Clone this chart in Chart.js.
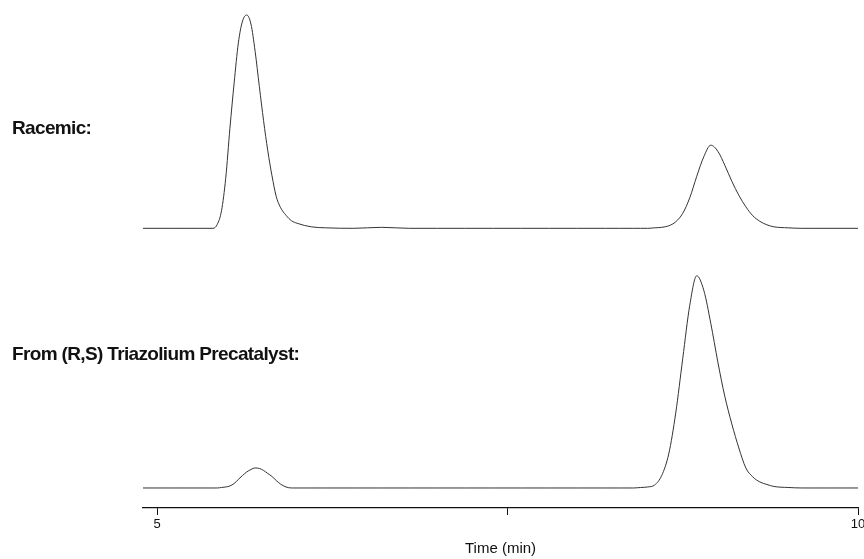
<!DOCTYPE html>
<html>
<head>
<meta charset="utf-8">
<script src="https://cdn.jsdelivr.net/npm/chart.js@4/dist/chart.umd.min.js"></script>
<style>
  html, body { margin: 0; padding: 0; background: #fff; overflow: hidden; }
  #wrap { width: 864px; height: 559px; overflow: hidden; }
</style>
</head>
<body>
<div id="wrap"><canvas id="hplc" width="900" height="559"></canvas></div>
<script>
// retention time (min), shared by both runs
var times = [
  4.90, 5.00, 5.10, 5.20, 5.30, 5.35, 5.40, 5.43, 5.46, 5.49,
  5.52, 5.55, 5.58, 5.61, 5.64, 5.67, 5.70, 5.73, 5.76, 5.79,
  5.82, 5.85, 5.88, 5.92, 5.96, 6.00, 6.10, 6.20, 6.40, 6.60,
  6.80, 7.00, 7.20, 7.40, 7.60, 7.80, 8.00, 8.20, 8.30, 8.40,
  8.45, 8.50, 8.55, 8.60, 8.65, 8.70, 8.75, 8.80, 8.85, 8.90,
  8.95, 9.00, 9.05, 9.10, 9.15, 9.20, 9.25, 9.30, 9.35, 9.40,
  9.50, 9.60, 9.70, 9.80, 9.90, 10.00
];

// detector signal (arb. units), racemic sample
var racemic = [
  0, 0, 0, 0, 0, 0, 0, 8, 35, 100,
  200, 290, 370, 414, 426, 408, 353, 283, 215, 155,
  105, 64, 42, 26, 15, 10, 3, 1, 0, 2,
  0, 0, 0, 0, 0, 0, 0, 0, 0, 0,
  0, 0, 1, 2, 5, 13, 30, 61, 104, 143,
  166, 154, 126, 94, 66, 43, 25, 14, 7, 3,
  1, 0, 0, 0, 0, 0
];

// detector signal (arb. units), product from (R,S) precatalyst
var fromRS = [
  0, 0, 0, 0, 0, 0, 0, 0, 1, 2,
  4, 9, 17, 25, 32, 37, 40, 39, 35, 29,
  23, 15, 8, 2, 0, 0, 0, 0, 0, 0,
  0, 0, 0, 0, 0, 0, 0, 0, 0, 0,
  1, 2, 6, 25, 68, 150, 259, 365, 424, 395,
  329, 252, 183, 128, 80, 40, 22, 12, 7, 3,
  1, 0, 0, 0, 0, 0
];

var traceNames = ["Racemic:", "From (R,S) Triazolium Precatalyst:"];
var xTicks = [5, 7.5, 10];
var xTickLabels = ["5", "", "10"];

function toPoints(ys) {
  return times.map(function (t, i) { return { x: t, y: ys[i] }; });
}

// draws the run names in the left margin
var traceLabels = {
  id: "traceLabels",
  afterDraw: function (chart) {
    var ctx = chart.ctx;
    ctx.save();
    ctx.font = 'bold 19px "Liberation Sans", Arial, sans-serif';
    ctx.letterSpacing = "-0.65px";
    ctx.fillStyle = "#111";
    ctx.textBaseline = "alphabetic";
    ctx.fillText(traceNames[0], 12, 134);
    ctx.fillText(traceNames[1], 12, 359.5);
    ctx.restore();
  }
};

var hidden = {
  display: true,
  ticks: { display: false },
  grid: { display: false, drawTicks: false },
  border: { display: false }
};

new Chart(document.getElementById("hplc"), {
  type: "line",
  data: {
    datasets: [
      { label: traceNames[0], data: toPoints(racemic), yAxisID: "yTop" },
      { label: traceNames[1], data: toPoints(fromRS), yAxisID: "yBottom" }
    ]
  },
  options: {
    responsive: false,
    animation: false,
    layout: { padding: { left: 143, right: 42, top: 0, bottom: 0 } },
    plugins: { legend: { display: false }, tooltip: { enabled: false } },
    elements: {
      point: { radius: 0 },
      line: { borderWidth: 1, borderColor: "#333", cubicInterpolationMode: "monotone" }
    },
    scales: {
      x: {
        type: "linear",
        position: "bottom",
        min: 4.9,
        max: 10,
        afterBuildTicks: function (scale) {
          scale.ticks = xTicks.map(function (v) { return { value: v }; });
        },
        afterFit: function (scale) { scale.height = 51; },
        ticks: {
          autoSkip: false,
          maxRotation: 0,
          padding: 2,
          color: "#111",
          font: { family: '"Liberation Sans", Arial, sans-serif', size: 13 },
          callback: function (v) { return xTickLabels[xTicks.indexOf(v)]; }
        },
        grid: { drawOnChartArea: false, drawTicks: true, tickLength: 7, color: "#111" },
        border: { color: "#111", width: 1.2 },
        title: {
          display: true,
          text: "Time (min)",
          color: "#111",
          font: { family: '"Liberation Sans", Arial, sans-serif', size: 15 },
          padding: { top: 0, bottom: 1 }
        }
      },
      // stacked axes are laid out bottom-up in definition order
      yBottom: Object.assign({ position: "left", stack: "runs", stackWeight: 1, min: -40, max: 467.5 }, hidden),
      yTop: Object.assign({ position: "left", stack: "runs", stackWeight: 1, min: -51.3, max: 456 }, hidden)
    }
  },
  plugins: [traceLabels]
});
</script>
</body>
</html>
